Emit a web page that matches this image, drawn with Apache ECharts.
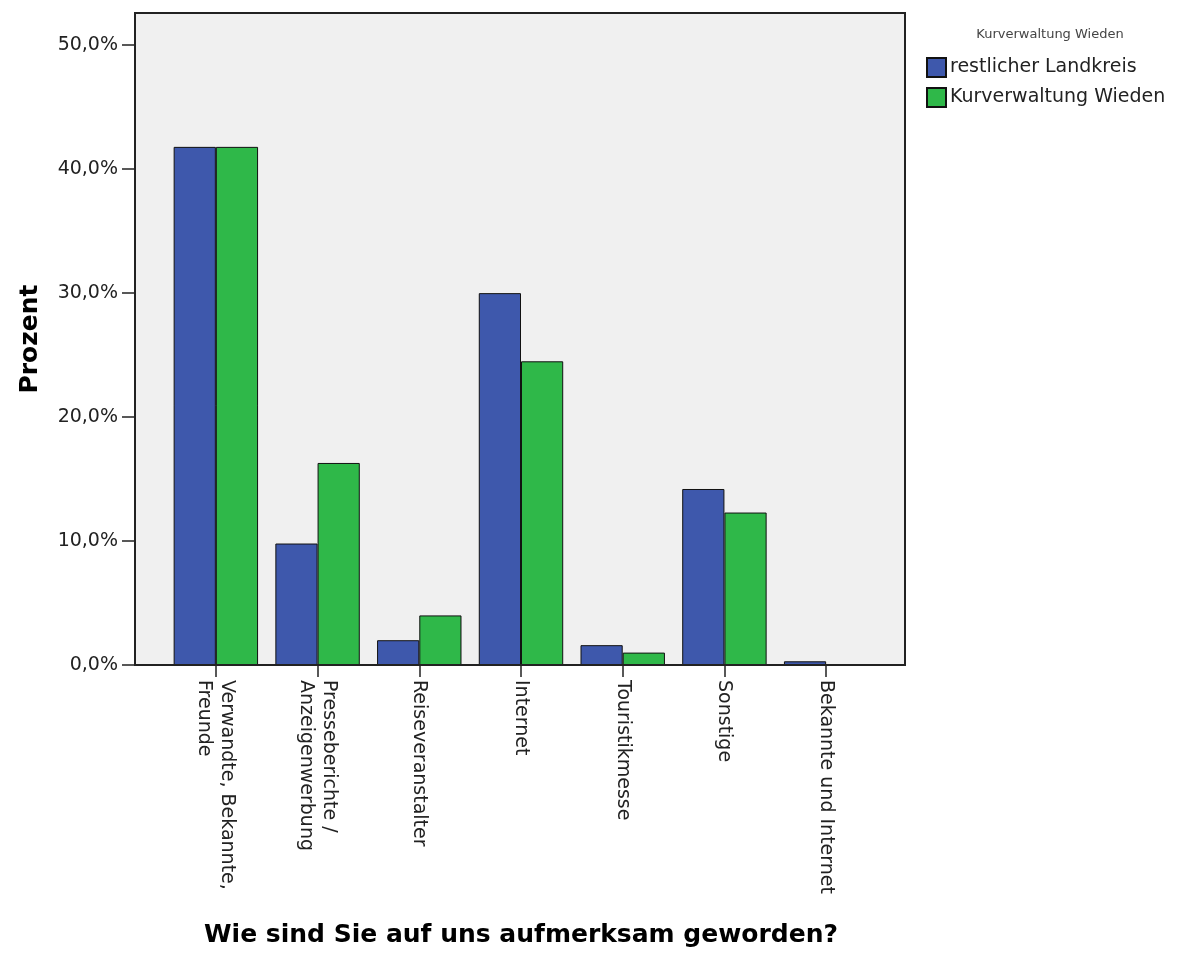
<!DOCTYPE html>
<html>
<head>
<meta charset="utf-8">
<script src="https://cdn.jsdelivr.net/npm/echarts@6/dist/echarts.min.js"></script>
<style>html,body{margin:0;padding:0;background:#fff}#c{width:1179px;height:954px}</style>
</head>
<body>
<div id="c"></div>
<script>
const categories = ['Verwandte, Bekannte,\nFreunde', 'Presseberichte /\nAnzeigenwerbung', 'Reiseveranstalter', 'Internet', 'Touristikmesse', 'Sonstige', 'Bekannte und Internet'];
const seriesNames = ['restlicher Landkreis', 'Kurverwaltung Wieden'];
const restlicherLandkreis = [41.8, 9.8, 2.0, 30.0, 1.6, 14.2, 0.3];
const kurverwaltungWieden = [41.8, 16.3, 4.0, 24.5, 1.0, 12.3, 0];
const yTicks = [0, 10, 20, 30, 40, 50];
const legendTitle = 'Kurverwaltung Wieden';
const xTitle = 'Wie sind Sie auf uns aufmerksam geworden?';
const yTitle = 'Prozent';

const FONT = 'DejaVu Sans';
const chart = echarts.init(document.getElementById('c'), null, {renderer: 'canvas'});
const fmt = v => v.toFixed(1).replace('.', ',') + '%';
chart.setOption({
  animation: false,
  backgroundColor: '#fff',
  title: {
    text: legendTitle, left: 1050, top: 28, textAlign: 'center', padding: 0,
    textStyle: {fontFamily: FONT, fontSize: 13, fontWeight: 'normal', color: '#444'}
  },
  legend: {
    orient: 'vertical', left: 926, top: 57, padding: 0,
    itemWidth: 19, itemHeight: 19, itemGap: 9, icon: 'rect',
    data: seriesNames,
    textStyle: {fontFamily: FONT, fontSize: 19, color: '#222', padding: [0, 0, 0, -1]}
  },
  grid: {left: 165, right: 302, top: 13, bottom: 289, containLabel: false, outerBoundsMode: 'none'},
  graphic: [
    {type: 'rect', z: -10, silent: true, shape: {x: 135, y: 13, width: 770, height: 652},
     style: {fill: '#f0f0f0', stroke: null}},
    {type: 'rect', z: 100, silent: true, shape: {x: 135, y: 13, width: 770, height: 652},
     style: {fill: null, stroke: '#222', lineWidth: 2}}
  ],
  xAxis: {
    type: 'category', data: categories,
    name: xTitle, nameLocation: 'middle', nameGap: 258,
    nameTextStyle: {fontFamily: FONT, fontSize: 25, fontWeight: 'bold', color: '#000'},
    axisLine: {show: true, lineStyle: {color: '#222', width: 1}},
    axisTick: {show: true, alignWithLabel: true, length: 12, lineStyle: {color: '#222', width: 1.5}},
    axisLabel: {rotate: -90, margin: 15, interval: 0, fontFamily: FONT, fontSize: 19, color: '#222', lineHeight: 23}
  },
  yAxis: {
    type: 'value', min: 0, max: 52.6, interval: 10, offset: 30,
    name: yTitle, nameLocation: 'middle', nameGap: 92,
    nameTextStyle: {fontFamily: FONT, fontSize: 25, fontWeight: 'bold', color: '#000'},
    splitLine: {show: false},
    axisLine: {show: true, lineStyle: {color: '#222', width: 2}},
    axisTick: {show: true, length: 13, customValues: yTicks, lineStyle: {color: '#222', width: 1.5}},
    axisLabel: {margin: 17, customValues: yTicks, formatter: fmt, fontFamily: FONT, fontSize: 19, color: '#222'}
  },
  series: [
    {name: seriesNames[0], type: 'bar', data: restlicherLandkreis, barGap: '0%', barCategoryGap: '17%',
     itemStyle: {color: '#3e58ac', borderColor: '#111', borderWidth: 1}},
    {name: seriesNames[1], type: 'bar', data: kurverwaltungWieden, barGap: '0%', barCategoryGap: '17%',
     itemStyle: {color: '#2fb849', borderColor: '#111', borderWidth: 1}}
  ]
});
</script>
</body>
</html>
